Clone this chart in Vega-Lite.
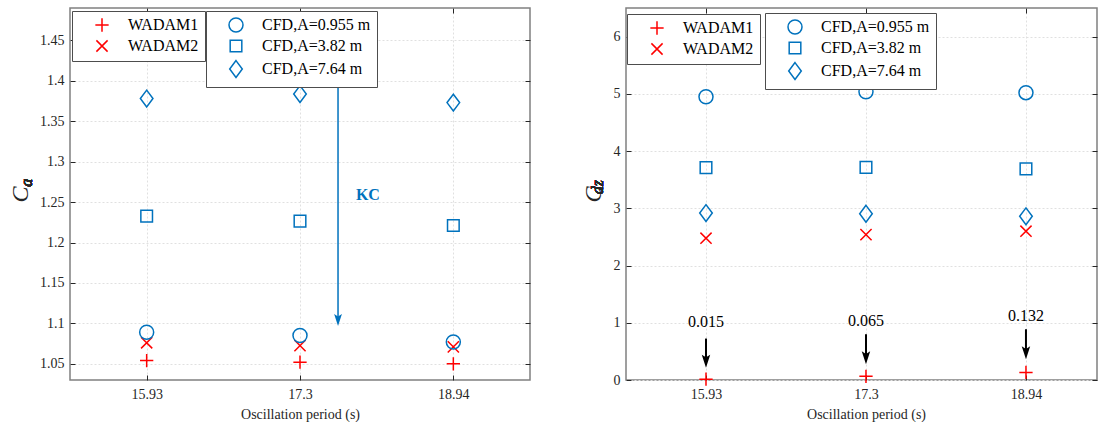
{
  "$schema": "https://vega.github.io/schema/vega-lite/v6.json",
  "background": "white",
  "padding": {"left": 7, "top": 6, "right": 0, "bottom": 0},
  "bounds": "flush",
  "spacing": 96,
  "config": {
    "font": "Times New Roman, Liberation Serif, DejaVu Serif, serif",
    "view": {"stroke": "#808080", "strokeWidth": 1.5},
    "axis": {
      "labelFont": "Times New Roman, Liberation Serif, DejaVu Serif, serif", "labelFontSize": 14, "labelColor": "#262626",
      "titleFont": "Times New Roman, Liberation Serif, DejaVu Serif, serif", "titleColor": "#262626", "titleFontWeight": "normal",
      "domain": false, "tickColor": "#262626", "tickSize": -5, "tickWidth": 1,
      "gridColor": "#e0e0e0", "gridDash": [2, 2], "gridWidth": 1
    },
    "axisX": {"labelFont": "Times New Roman, Liberation Serif, DejaVu Serif, serif", "labelPadding": 12, "titleFontSize": 14, "titlePadding": 6},
    "axisY": {"labelFont": "Times New Roman, Liberation Serif, DejaVu Serif, serif", "labelPadding": 11, "titleFontSize": 24, "titleFontStyle": "italic", "titlePadding": 7},
    "legend": {
      "orient": "none", "direction": "vertical", "fillColor": "white", "strokeColor": "#4d4d4d",
      "padding": 6, "labelFont": "Times New Roman, Liberation Serif, DejaVu Serif, serif", "labelFontSize": 16, "labelColor": "#000000",
      "labelLimit": 400, "symbolOffset": 16, "labelOffset": 18, "rowPadding": 2,
      "symbolStrokeWidth": 1.5, "symbolSize": 196
    }
  },
  "datasets": {
    "ca": [
      {"period": "15.93", "pos": 1, "series": "WADAM1", "value": 1.054},
      {"period": "17.3", "pos": 2, "series": "WADAM1", "value": 1.052},
      {"period": "18.94", "pos": 3, "series": "WADAM1", "value": 1.050},
      {"period": "15.93", "pos": 1, "series": "WADAM2", "value": 1.076},
      {"period": "17.3", "pos": 2, "series": "WADAM2", "value": 1.0725},
      {"period": "18.94", "pos": 3, "series": "WADAM2", "value": 1.071},
      {"period": "15.93", "pos": 1, "series": "CFD,A=0.955 m", "value": 1.089},
      {"period": "17.3", "pos": 2, "series": "CFD,A=0.955 m", "value": 1.085},
      {"period": "18.94", "pos": 3, "series": "CFD,A=0.955 m", "value": 1.077},
      {"period": "15.93", "pos": 1, "series": "CFD,A=3.82 m", "value": 1.2326},
      {"period": "17.3", "pos": 2, "series": "CFD,A=3.82 m", "value": 1.2264},
      {"period": "18.94", "pos": 3, "series": "CFD,A=3.82 m", "value": 1.221},
      {"period": "15.93", "pos": 1, "series": "CFD,A=7.64 m", "value": 1.378},
      {"period": "17.3", "pos": 2, "series": "CFD,A=7.64 m", "value": 1.3836},
      {"period": "18.94", "pos": 3, "series": "CFD,A=7.64 m", "value": 1.373}
    ],
    "cdz": [
      {"period": "15.93", "pos": 1, "series": "WADAM1", "value": 0.015},
      {"period": "17.3", "pos": 2, "series": "WADAM1", "value": 0.065},
      {"period": "18.94", "pos": 3, "series": "WADAM1", "value": 0.132},
      {"period": "15.93", "pos": 1, "series": "WADAM2", "value": 2.477},
      {"period": "17.3", "pos": 2, "series": "WADAM2", "value": 2.54},
      {"period": "18.94", "pos": 3, "series": "WADAM2", "value": 2.60},
      {"period": "15.93", "pos": 1, "series": "CFD,A=0.955 m", "value": 4.95},
      {"period": "17.3", "pos": 2, "series": "CFD,A=0.955 m", "value": 5.035},
      {"period": "18.94", "pos": 3, "series": "CFD,A=0.955 m", "value": 5.02},
      {"period": "15.93", "pos": 1, "series": "CFD,A=3.82 m", "value": 3.71},
      {"period": "17.3", "pos": 2, "series": "CFD,A=3.82 m", "value": 3.715},
      {"period": "18.94", "pos": 3, "series": "CFD,A=3.82 m", "value": 3.69},
      {"period": "15.93", "pos": 1, "series": "CFD,A=7.64 m", "value": 2.917},
      {"period": "17.3", "pos": 2, "series": "CFD,A=7.64 m", "value": 2.905},
      {"period": "18.94", "pos": 3, "series": "CFD,A=7.64 m", "value": 2.86}
    ]
  },
  "resolve": {"scale": {"color": "independent", "shape": "independent"}},
  "hconcat": [
    {
      "width": 460, "height": 372,
      "data": {"name": "ca"},
      "layer": [
        {
          "transform": [{"filter": {"field": "series", "oneOf": ["WADAM1", "WADAM2"]}}],
          "mark": {"type": "point", "filled": false, "size": 196, "strokeWidth": 1.5, "opacity": 1},
          "encoding": {
            "x": {"field": "pos", "type": "quantitative", "scale": {"domain": [0.5, 3.5], "nice": false, "zero": false},
              "axis": {"values": [1, 2, 3], "labelExpr": "datum.value == 1 ? '15.93' : datum.value == 2 ? '17.3' : '18.94'", "labelFont": "Times New Roman, Liberation Serif, DejaVu Serif, serif", "title": "Oscillation period (s)", "grid": true}},
            "y": {"field": "value", "type": "quantitative", "scale": {"domain": [1.03, 1.49], "nice": false, "zero": false},
              "axis": {"values": [1.05, 1.1, 1.15, 1.2, 1.25, 1.3, 1.35, 1.4, 1.45], "format": ".2~f", "labelFont": "Times New Roman, Liberation Serif, DejaVu Serif, serif", "title": "C", "grid": true}},
            "color": {"field": "series", "type": "nominal", "scale": {"domain": ["WADAM1", "WADAM2"], "range": ["#ff0000", "#ff0000"]},
              "legend": {"title": null, "legendX": 2, "legendY": 3}},
            "shape": {"field": "series", "type": "nominal", "scale": {"domain": ["WADAM1", "WADAM2"], "range": ["M-0.95,0L0.95,0M0,-0.95L0,0.95", "M-0.8,-0.8L0.8,0.8M-0.8,0.8L0.8,-0.8"]},
              "legend": {"title": null, "legendX": 2, "legendY": 3}}
          }
        },
        {
          "transform": [{"filter": {"field": "series", "oneOf": ["CFD,A=0.955 m", "CFD,A=3.82 m", "CFD,A=7.64 m"]}}],
          "mark": {"type": "point", "filled": false, "size": 196, "strokeWidth": 1.5, "opacity": 1},
          "encoding": {
            "x": {"field": "pos", "type": "quantitative", "axis": null},
            "y": {"field": "value", "type": "quantitative", "axis": null},
            "color": {"field": "series", "type": "nominal", "scale": {"domain": ["CFD,A=0.955 m", "CFD,A=3.82 m", "CFD,A=7.64 m"], "range": ["#0072bd", "#0072bd", "#0072bd"]},
              "legend": {"title": null, "legendX": 136, "legendY": 3}},
            "shape": {"field": "series", "type": "nominal", "scale": {"domain": ["CFD,A=0.955 m", "CFD,A=3.82 m", "CFD,A=7.64 m"], "range": ["circle", "M-0.83,-0.83L0.83,-0.83L0.83,0.83L-0.83,0.83Z", "M0,-1.2L0.9,0L0,1.2L-0.9,0Z"]},
              "legend": {"title": null, "legendX": 136, "legendY": 3}}
          }
        },
        {
          "data": {"values": [{"pos": 2.248, "y": 1.396, "y2": 1.105}]},
          "mark": {"type": "rule", "color": "#0072bd", "strokeWidth": 1.5},
          "encoding": {
            "x": {"field": "pos", "type": "quantitative", "axis": null},
            "y": {"field": "y", "type": "quantitative", "axis": null},
            "y2": {"field": "y2"}
          }
        },
        {
          "data": {"values": [{"pos": 2.248, "y": 1.1042}]},
          "mark": {"type": "point", "filled": true, "size": 144, "color": "#0072bd", "opacity": 1, "shape": "M0,1L-0.65,-1L0,-0.6L0.65,-1Z"},
          "encoding": {
            "x": {"field": "pos", "type": "quantitative", "axis": null},
            "y": {"field": "y", "type": "quantitative", "axis": null}
          }
        },
        {
          "data": {"values": [{"pos": 2.443, "y": 1.2588, "label": "KC"}]},
          "mark": {"type": "text", "font": "Times New Roman, Liberation Serif, DejaVu Serif, serif", "fontSize": 16, "fontWeight": "bold", "color": "#0072bd", "align": "center", "baseline": "middle"},
          "encoding": {
            "x": {"field": "pos", "type": "quantitative", "axis": {"orient": "top", "values": [1, 2, 3], "labels": false, "title": null, "grid": false}},
            "y": {"field": "y", "type": "quantitative", "axis": {"orient": "right", "values": [1.05, 1.1, 1.15, 1.2, 1.25, 1.3, 1.35, 1.4, 1.45], "labels": false, "title": null, "grid": false}},
            "text": {"field": "label"}
          }
        },
        {
          "mark": {"type": "text", "font": "Times New Roman, Liberation Serif, DejaVu Serif, serif", "fontStyle": "italic", "fontSize": 16, "angle": 270, "dy": -43, "align": "center", "baseline": "middle", "color": "#262626"},
          "encoding": {
            "x": {"datum": 0.5, "type": "quantitative", "axis": null},
            "y": {"datum": 1.274, "type": "quantitative", "axis": null},
            "text": {"value": "a"}
          }
        }
      ],
      "resolve": {"scale": {"color": "independent", "shape": "independent"}, "axis": {"x": "independent", "y": "independent"}}
    },
    {
      "width": 471, "height": 372,
      "data": {"name": "cdz"},
      "layer": [
        {
          "transform": [{"filter": {"field": "series", "oneOf": ["WADAM1", "WADAM2"]}}],
          "mark": {"type": "point", "filled": false, "size": 196, "strokeWidth": 1.5, "opacity": 1},
          "encoding": {
            "x": {"field": "pos", "type": "quantitative", "scale": {"domain": [0.5, 3.444], "nice": false, "zero": false},
              "axis": {"values": [1, 2, 3], "labelExpr": "datum.value == 1 ? '15.93' : datum.value == 2 ? '17.3' : '18.94'", "labelFont": "Times New Roman, Liberation Serif, DejaVu Serif, serif", "title": "Oscillation period (s)", "titleX": 240, "grid": true}},
            "y": {"field": "value", "type": "quantitative", "scale": {"domain": [0, 6.5], "nice": false, "zero": false},
              "axis": {"values": [0, 1, 2, 3, 4, 5, 6], "format": "d", "labelFont": "Times New Roman, Liberation Serif, DejaVu Serif, serif", "title": "C", "titlePadding": 8, "grid": true}},
            "color": {"field": "series", "type": "nominal", "scale": {"domain": ["WADAM1", "WADAM2"], "range": ["#ff0000", "#ff0000"]},
              "legend": {"title": null, "legendX": 1, "legendY": 6}},
            "shape": {"field": "series", "type": "nominal", "scale": {"domain": ["WADAM1", "WADAM2"], "range": ["M-0.95,0L0.95,0M0,-0.95L0,0.95", "M-0.8,-0.8L0.8,0.8M-0.8,0.8L0.8,-0.8"]},
              "legend": {"title": null, "legendX": 1, "legendY": 6}}
          }
        },
        {
          "transform": [{"filter": {"field": "series", "oneOf": ["CFD,A=0.955 m", "CFD,A=3.82 m", "CFD,A=7.64 m"]}}],
          "mark": {"type": "point", "filled": false, "size": 196, "strokeWidth": 1.5, "opacity": 1},
          "encoding": {
            "x": {"field": "pos", "type": "quantitative", "axis": null},
            "y": {"field": "value", "type": "quantitative", "axis": null},
            "color": {"field": "series", "type": "nominal", "scale": {"domain": ["CFD,A=0.955 m", "CFD,A=3.82 m", "CFD,A=7.64 m"], "range": ["#0072bd", "#0072bd", "#0072bd"]},
              "legend": {"title": null, "legendX": 139, "legendY": 5}},
            "shape": {"field": "series", "type": "nominal", "scale": {"domain": ["CFD,A=0.955 m", "CFD,A=3.82 m", "CFD,A=7.64 m"], "range": ["circle", "M-0.83,-0.83L0.83,-0.83L0.83,0.83L-0.83,0.83Z", "M0,-1.2L0.9,0L0,1.2L-0.9,0Z"]},
              "legend": {"title": null, "legendX": 139, "legendY": 5}}
          }
        },
        {
          "data": {"values": [{"pos": 1, "y": 0.724, "y2": 0.33}, {"pos": 2, "y": 0.80, "y2": 0.39}, {"pos": 3, "y": 0.887, "y2": 0.475}]},
          "mark": {"type": "rule", "color": "#000000", "strokeWidth": 2},
          "encoding": {
            "x": {"field": "pos", "type": "quantitative", "axis": null},
            "y": {"field": "y", "type": "quantitative", "axis": null},
            "y2": {"field": "y2"}
          }
        },
        {
          "data": {"values": [{"pos": 1, "y": 0.329}, {"pos": 2, "y": 0.387}, {"pos": 3, "y": 0.475}]},
          "mark": {"type": "point", "filled": true, "size": 169, "color": "#000000", "opacity": 1, "shape": "M0,1L-0.65,-1L0,-0.6L0.65,-1Z"},
          "encoding": {
            "x": {"field": "pos", "type": "quantitative", "axis": null},
            "y": {"field": "y", "type": "quantitative", "axis": null}
          }
        },
        {
          "data": {"values": [{"pos": 1, "y": 1.016, "label": "0.015"}, {"pos": 2, "y": 1.033, "label": "0.065"}, {"pos": 3, "y": 1.111, "label": "0.132"}]},
          "mark": {"type": "text", "font": "Times New Roman, Liberation Serif, DejaVu Serif, serif", "fontSize": 16, "color": "#000000", "align": "center", "baseline": "middle"},
          "encoding": {
            "x": {"field": "pos", "type": "quantitative", "axis": {"orient": "top", "values": [1, 2, 3], "labels": false, "title": null, "grid": false}},
            "y": {"field": "y", "type": "quantitative", "axis": {"orient": "right", "values": [0, 1, 2, 3, 4, 5, 6], "labels": false, "title": null, "grid": false}},
            "text": {"field": "label"}
          }
        },
        {
          "mark": {"type": "text", "font": "Times New Roman, Liberation Serif, DejaVu Serif, serif", "fontStyle": "italic", "fontSize": 16, "angle": 270, "dy": -28, "align": "center", "baseline": "middle", "color": "#262626"},
          "encoding": {
            "x": {"datum": 0.5, "type": "quantitative", "axis": null},
            "y": {"datum": 3.37, "type": "quantitative", "axis": null},
            "text": {"value": "dz"}
          }
        }
      ],
      "resolve": {"scale": {"color": "independent", "shape": "independent"}, "axis": {"x": "independent", "y": "independent"}}
    }
  ]
}
